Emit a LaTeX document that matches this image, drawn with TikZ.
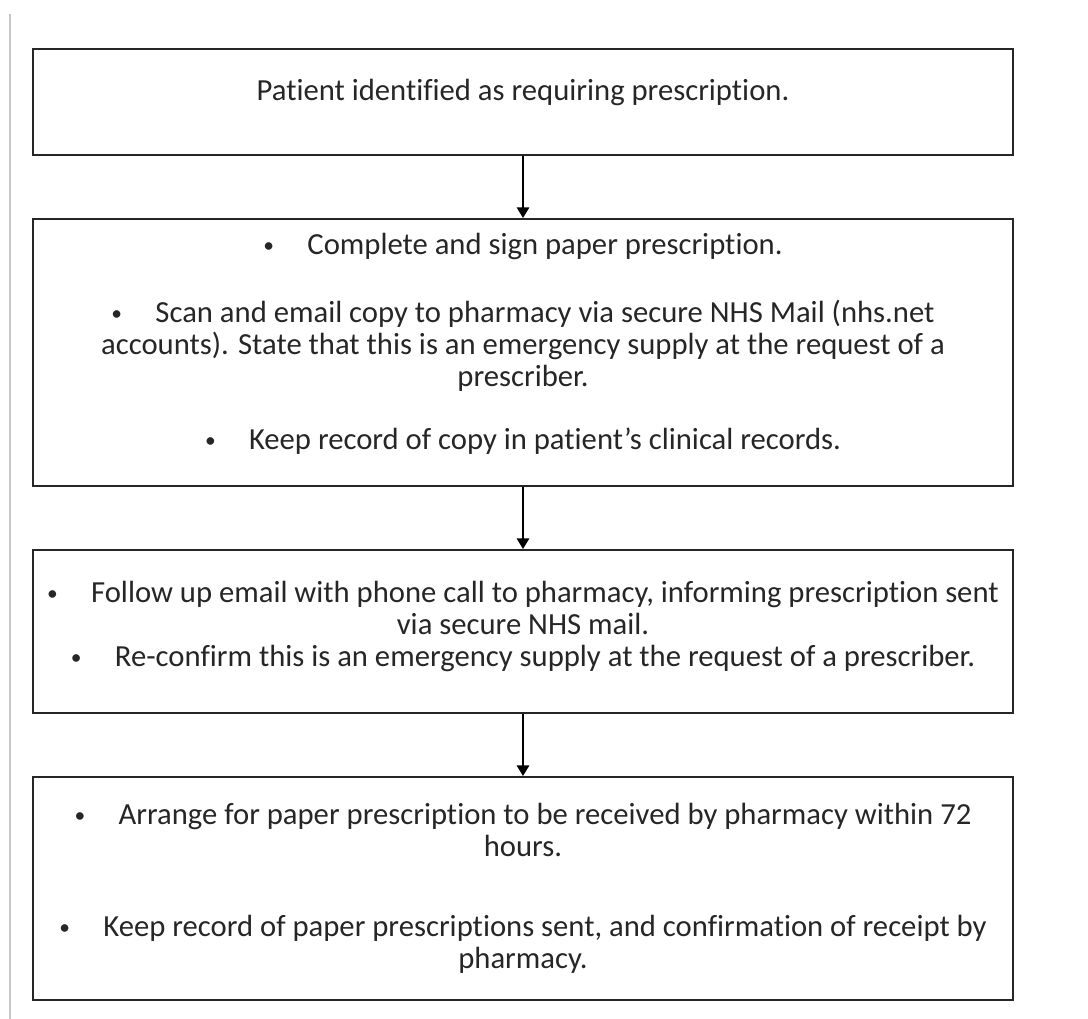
\documentclass[tikz,border=0pt]{standalone}
\usepackage{fontspec}
\setmainfont{Carlito}[Ligatures={NoCommon,NoContextual,NoRequired},Contextuals={NoAlternate}]
\usetikzlibrary{arrows.meta}

\newcommand{\bul}{\raisebox{1.5pt}{\scalebox{0.7}{\textbullet}}\hspace{25pt}}

\begin{document}
\begin{tikzpicture}[x=0.75pt,y=-0.75pt,
    stepbox/.style={draw=black!85, line width=1.6pt, minimum width=735pt,
        align=center, inner sep=0pt, text=black!85,
        font=\fontsize{23}{24}\selectfont},
    flow/.style={line width=2.2pt, -{Triangle[width=9pt,length=8pt]}}]

    \useasboundingbox (0,0) rectangle (1088,1019);
    \draw [black!22, line width=1.5pt] (9.5,14) -- (9.5,1019);

    \node [stepbox, minimum height=79.5pt] (patient) at (523,102)
        {Patient identified as requiring prescription.\\[-6pt]};

    \node [stepbox, minimum height=200pt] (sign) at (523,352.5)
        {\bul Complete and sign paper prescription.\\[27pt]
         \bul Scan and email copy to pharmacy via secure NHS Mail (nhs.net\\
         accounts). State that this is an emergency supply at the request of a\\
         prescriber.\\[23pt]
         \bul Keep record of copy in patient’s clinical records.\\[-7pt]};

    \node [stepbox, minimum height=122pt] (phone) at (523,631.5)
        {\bul Follow up email with phone call to pharmacy, informing prescription sent\\
         via secure NHS mail.\\
         \bul Re-confirm this is an emergency supply at the request of a prescriber.\\[-12pt]};

    \node [stepbox, minimum height=167pt] (paper) at (523,888.5)
        {\bul Arrange for paper prescription to be received by pharmacy within 72\\
         hours.\\[36pt]
         \bul Keep record of paper prescriptions sent, and confirmation of receipt by\\
         pharmacy.};

    \draw [flow] (patient) -- (sign);
    \draw [flow] (sign) -- (phone);
    \draw [flow] (phone) -- (paper);

\end{tikzpicture}
\end{document}
